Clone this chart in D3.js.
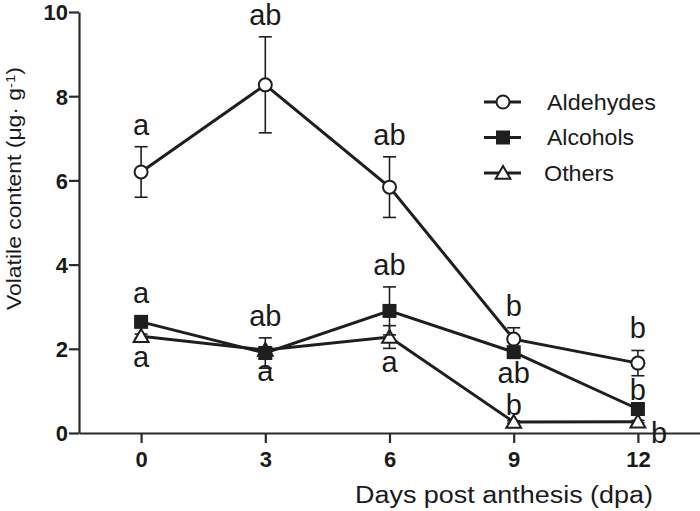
<!DOCTYPE html>
<html>
<head>
<meta charset="utf-8">
<script src="https://cdn.jsdelivr.net/npm/d3@7"></script>
<style>
  body { margin: 0; background: #fff; }
  svg { display: block; font-family: "Liberation Sans", Arial, sans-serif; }
  .axis path, .axis line { stroke: #2b2b2b; stroke-width: 2.2px; }
  .axis text { font-weight: bold; font-size: 22px; fill: #1a1a1a; }
  .series { fill: none; stroke: #1e1e1e; stroke-width: 3px; }
  .err { stroke: #1e1e1e; stroke-width: 1.6px; }
  .letter { font-size: 29px; fill: #1a1a1a; }
  .leg text { font-size: 22px; fill: #1a1a1a; }
</style>
</head>
<body>
<svg id="chart" width="700" height="511"></svg>
<script>
// days post anthesis
const days = [0, 3, 6, 9, 12];

// volatile content (ug/g), mean and error
const aldehydes    = [6.2, 8.27, 5.84, 2.23, 1.66];
const aldehydesErr = [0.6, 1.14, 0.72, 0.27, 0.3];
const alcohols     = [2.64, 1.9, 2.9, 1.92, 0.57];
const alcoholsErr  = [0.08, 0.36, 0.57, 0.08, 0.05];
const others       = [2.3, 1.97, 2.28, 0.26, 0.27];
const othersErr    = [0.05, 0.05, 0.27, 0.03, 0.03];

// significance letters and where they sit
const aldehydesLetters = ["a", "ab", "ab", "b", "b"];
const aldehydesPlace   = ["above", "above", "above", "above", "above"];
const alcoholsLetters  = ["a", "ab", "ab", "ab", "b"];
const alcoholsPlace    = ["above", "above", "above", "below", "on"];
const othersLetters    = ["a", "a", "a", "b", "b"];
const othersPlace      = ["below", "below", "below", "on", "right"];

const yTicks = [0, 2, 4, 6, 8, 10];

const series = [
  { name: "Aldehydes", vals: aldehydes, err: aldehydesErr, letters: aldehydesLetters, place: aldehydesPlace, marker: "circle" },
  { name: "Alcohols", vals: alcohols, err: alcoholsErr, letters: alcoholsLetters, place: alcoholsPlace, marker: "square" },
  { name: "Others", vals: others, err: othersErr, letters: othersLetters, place: othersPlace, marker: "triangle" }
];

const svg = d3.select("#chart");
const margin = { left: 79, right: 0, top: 12, bottom: 78 };
const W = 700, H = 511;

const x = d3.scaleLinear().domain([-1.5, 13.5]).range([margin.left, W - margin.right]);
const y = d3.scaleLinear().domain([0, 10]).range([H - margin.bottom, margin.top]);

// axes
svg.append("g")
  .attr("class", "axis")
  .attr("transform", `translate(0,${y(0)})`)
  .call(d3.axisBottom(x).tickValues(days).tickSize(10).tickSizeOuter(0).tickPadding(6))
  .call(g => g.selectAll("text").attr("y", 34).attr("dy", 0));

svg.append("g")
  .attr("class", "axis")
  .attr("transform", `translate(${x(-1.5)},0)`)
  .call(d3.axisLeft(y).tickValues(yTicks).tickSize(10).tickSizeOuter(0).tickPadding(1))
  .call(g => g.selectAll("text").attr("dy", "0.36em"));

// axis titles
svg.append("text")
  .attr("x", 355).attr("y", 503)
  .attr("textLength", 298).attr("lengthAdjust", "spacingAndGlyphs")
  .style("font-size", "23px").style("fill", "#1a1a1a")
  .text("Days post anthesis (dpa)");

const yl = svg.append("text")
  .attr("transform", `translate(21,310) rotate(-90)`)
  .attr("textLength", 243).attr("lengthAdjust", "spacingAndGlyphs")
  .style("font-size", "20px").style("fill", "#1a1a1a");
yl.append("tspan").text("Volatile content (μg·  g");
yl.append("tspan").attr("dy", "-0.5em").style("font-size", "13px").text("-1");
yl.append("tspan").attr("dy", "0.3em").text(")");

const line = d3.line().x((d, i) => x(days[i])).y(d => y(d));

// half height of each marker above / below its centre
const markerUp = { circle: 7, square: 7, triangle: 5 };
const markerDown = { circle: 7, square: 7, triangle: 7 };

function drawMarker(g, type, cx, cy) {
  if (type === "circle") {
    g.append("circle").attr("cx", cx).attr("cy", cy).attr("r", 6.5)
      .attr("fill", "#fff").attr("stroke", "#1e1e1e").attr("stroke-width", 2);
  } else if (type === "square") {
    g.append("rect").attr("x", cx - 7).attr("y", cy - 7).attr("width", 14).attr("height", 14)
      .attr("fill", "#1e1e1e");
  } else {
    const s = d3.symbol().type(d3.symbolTriangle).size(95);
    g.append("path").attr("d", s()).attr("transform", `translate(${cx},${cy + 1.5})`)
      .attr("fill", "#fff").attr("stroke", "#1e1e1e").attr("stroke-width", 2);
  }
}

// draw from bottom series to top
series.slice().reverse().forEach(s => {
  const g = svg.append("g");
  // error bars
  s.vals.forEach((v, i) => {
    const cx = x(days[i]);
    const y1 = y(v + s.err[i]), y2 = y(v - s.err[i]);
    g.append("line").attr("class", "err").attr("x1", cx).attr("x2", cx).attr("y1", y1).attr("y2", y2);
    g.append("line").attr("class", "err").attr("x1", cx - 6.5).attr("x2", cx + 6.5).attr("y1", y1).attr("y2", y1);
    g.append("line").attr("class", "err").attr("x1", cx - 6.5).attr("x2", cx + 6.5).attr("y1", y2).attr("y2", y2);
  });
  g.append("path").attr("class", "series").attr("d", line(s.vals));
  s.vals.forEach((v, i) => drawMarker(g, s.marker, x(days[i]), y(v)));
});

// letters
series.forEach(s => {
  s.vals.forEach((v, i) => {
    const cx = x(days[i]);
    const top = Math.min(y(v + s.err[i]), y(v) - markerUp[s.marker]);
    const bot = Math.max(y(v - s.err[i]), y(v) + markerDown[s.marker]);
    const p = s.place[i];
    let tx = cx, ty, anchor = "middle";
    if (p === "above") ty = top - 12;
    else if (p === "on") ty = y(v) - markerUp[s.marker] - 2;
    else if (p === "below") ty = bot + 24;
    else { tx = cx + 13; ty = y(v) + 21; anchor = "start"; }
    svg.append("text").attr("class", "letter")
      .attr("x", tx).attr("y", ty).attr("text-anchor", anchor)
      .text(s.letters[i]);
  });
});

// legend
const legWidths = [109, 87, 70];
const leg = svg.append("g").attr("class", "leg");
series.forEach((s, i) => {
  const ly = 102 + i * 35.5;
  const gx = 503;
  leg.append("line").attr("x1", gx - 19).attr("x2", gx + 18).attr("y1", ly).attr("y2", ly)
    .attr("stroke", "#1e1e1e").attr("stroke-width", 3);
  drawMarker(leg, s.marker, gx, ly);
  leg.append("text").attr("x", i === 2 ? 544 : 547).attr("y", ly + 7.5)
    .attr("textLength", legWidths[i]).attr("lengthAdjust", "spacingAndGlyphs")
    .text(s.name);
});
</script>
</body>
</html>
